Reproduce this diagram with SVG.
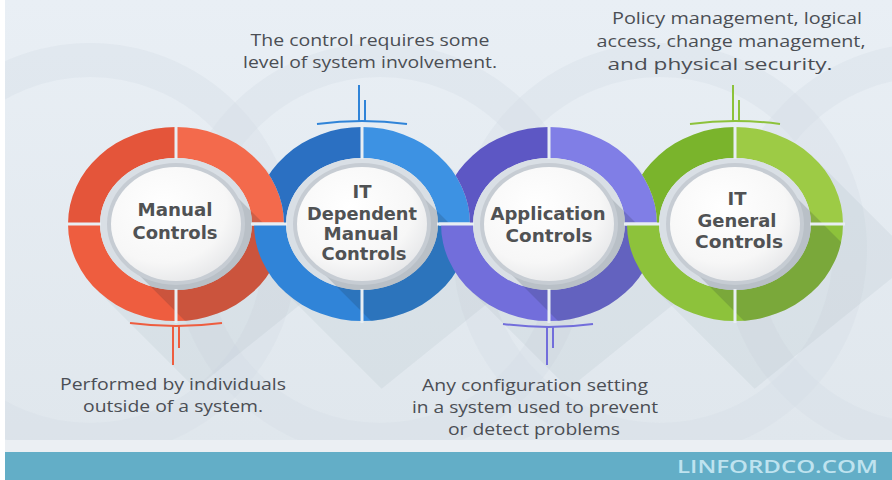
<svg xmlns="http://www.w3.org/2000/svg" width="892" height="480" viewBox="0 0 892 480">
<defs>
<style>
.lbl{font-family:"DejaVu Sans",sans-serif;font-weight:bold;font-size:18px;fill:#505254;text-anchor:middle}
.note{font-family:"Open Sans","Liberation Sans",sans-serif;font-size:17px;fill:#4b4e54;text-anchor:middle}
.div{stroke:#e8eef3;stroke-width:3}
.gap{fill:#d9dfe5}
.rim{fill:#c6ccd3}
.disc{fill:url(#discG)}
.dsh{fill:#1e2a36;fill-opacity:0.17}
.bsh{fill:#7f8f9e;fill-opacity:0.09}
.arc{fill:none;stroke:#d4dce4;stroke-opacity:0.35;stroke-width:34}
</style>
<linearGradient id="bgG" x1="0" y1="0" x2="0" y2="1">
<stop offset="0" stop-color="#e9eff5"/>
<stop offset="1" stop-color="#dfe6ec"/>
</linearGradient>
<radialGradient id="discG" cx="0.4" cy="0.35" r="0.7">
<stop offset="0" stop-color="#ffffff"/>
<stop offset="0.7" stop-color="#f7f7f7"/>
<stop offset="1" stop-color="#e6e7e9"/>
</radialGradient>
<clipPath id="annR"><path clip-rule="evenodd" d="M68,224 A108,97 0 1 0 284,224 A108,97 0 1 0 68,224 Z M100,224 A76,66 0 1 0 252,224 A76,66 0 1 0 100,224 Z"/></clipPath>
<clipPath id="annB"><path clip-rule="evenodd" d="M254,224 A108,97 0 1 0 470,224 A108,97 0 1 0 254,224 Z M286,224 A76,66 0 1 0 438,224 A76,66 0 1 0 286,224 Z"/></clipPath>
<clipPath id="annP"><path clip-rule="evenodd" d="M441,224 A108,97 0 1 0 657,224 A108,97 0 1 0 441,224 Z M473,224 A76,66 0 1 0 625,224 A76,66 0 1 0 473,224 Z"/></clipPath>
<clipPath id="annG"><path clip-rule="evenodd" d="M627,224 A108,97 0 1 0 843,224 A108,97 0 1 0 627,224 Z M659,224 A76,66 0 1 0 811,224 A76,66 0 1 0 659,224 Z"/></clipPath>
<clipPath id="outR"><path clip-rule="evenodd" d="M0,0 H892 V480 H0 Z M68,224 A108,97 0 1 0 284,224 A108,97 0 1 0 68,224 Z"/></clipPath>
<clipPath id="outB"><path clip-rule="evenodd" d="M0,0 H892 V480 H0 Z M254,224 A108,97 0 1 0 470,224 A108,97 0 1 0 254,224 Z"/></clipPath>
<clipPath id="outP"><path clip-rule="evenodd" d="M0,0 H892 V480 H0 Z M441,224 A108,97 0 1 0 657,224 A108,97 0 1 0 441,224 Z"/></clipPath>
<clipPath id="elR"><ellipse cx="176" cy="224" rx="108" ry="97"/></clipPath>
<clipPath id="elB"><ellipse cx="362" cy="224" rx="108" ry="97"/></clipPath>
<clipPath id="elP"><ellipse cx="549" cy="224" rx="108" ry="97"/></clipPath>
<clipPath id="elG"><ellipse cx="735" cy="224" rx="108" ry="97"/></clipPath>
</defs>

<g id="background">
<rect width="892" height="480" fill="url(#bgG)"/>
<circle class="arc" cx="90" cy="250" r="190"/>
<circle class="arc" cx="380" cy="250" r="190"/>
<circle class="arc" cx="660" cy="250" r="190"/>
<circle class="arc" cx="930" cy="250" r="190"/>
<rect x="0" y="0" width="5" height="480" fill="#ffffff"/>
<g transform="translate(176,224)"><polygon class="bsh" points="80.4,-64.8 180.4,35.2 19.6,164.8 -80.4,64.8"/></g>
<g transform="translate(362,224)"><polygon class="bsh" points="80.4,-64.8 180.4,35.2 19.6,164.8 -80.4,64.8"/></g>
<g transform="translate(549,224)"><polygon class="bsh" points="80.4,-64.8 180.4,35.2 19.6,164.8 -80.4,64.8"/></g>
<g transform="translate(735,224)"><polygon class="bsh" points="80.4,-64.8 180.4,35.2 19.6,164.8 -80.4,64.8"/></g>
</g>

<g id="node-manual">
<g clip-path="url(#annR)">
<rect x="66" y="125" width="110" height="99" fill="#e4553a"/>
<rect x="176" y="125" width="110" height="99" fill="#f36a4c"/>
<rect x="66" y="224" width="110" height="99" fill="#ee5d3f"/>
<rect x="176" y="224" width="110" height="99" fill="#ee5d3f"/>
</g>
<ellipse class="gap" cx="176" cy="224" rx="76" ry="66"/>
<g clip-path="url(#elR)"><polygon class="dsh" transform="translate(176,224)" points="49.6,-38.3 199.6,111.7 100.4,188.3 -49.6,38.3"/></g>
<line class="div" x1="176" y1="125" x2="176" y2="159"/>
<line class="div" x1="176" y1="289" x2="176" y2="323"/>
<line class="div" x1="66" y1="224" x2="101" y2="224"/>
<line class="div" x1="251" y1="224" x2="286" y2="224"/>
<ellipse class="rim" cx="176" cy="224" rx="69" ry="61"/>
<ellipse class="disc" cx="176" cy="224" rx="65" ry="57"/>
<text class="lbl" x="175" y="216" textLength="75" lengthAdjust="spacingAndGlyphs">Manual</text>
<text class="lbl" x="175" y="239" textLength="85" lengthAdjust="spacingAndGlyphs">Controls</text>
</g>

<g id="node-itdm">
<g clip-path="url(#annB)">
<g clip-path="url(#outR)"><rect x="252" y="125" width="110" height="99" fill="#2b70c2"/></g>
<rect x="362" y="125" width="110" height="99" fill="#3d92e3"/>
<rect x="252" y="224" width="110" height="99" fill="#3084d8"/>
<rect x="362" y="224" width="110" height="99" fill="#3084d8"/>
</g>
<ellipse class="gap" cx="362" cy="224" rx="76" ry="66"/>
<g clip-path="url(#elB)"><polygon class="dsh" transform="translate(362,224)" points="49.6,-38.3 199.6,111.7 100.4,188.3 -49.6,38.3"/></g>
<line class="div" x1="362" y1="125" x2="362" y2="159"/>
<line class="div" x1="362" y1="289" x2="362" y2="323"/>
<line class="div" x1="252" y1="224" x2="287" y2="224"/>
<line class="div" x1="437" y1="224" x2="472" y2="224"/>
<ellipse class="rim" cx="362" cy="224" rx="69" ry="61"/>
<ellipse class="disc" cx="362" cy="224" rx="65" ry="57"/>
<text class="lbl" x="362" y="198">IT</text>
<text class="lbl" x="362" y="220" textLength="110" lengthAdjust="spacingAndGlyphs">Dependent</text>
<text class="lbl" x="361" y="240" textLength="75" lengthAdjust="spacingAndGlyphs">Manual</text>
<text class="lbl" x="364" y="260" textLength="85" lengthAdjust="spacingAndGlyphs">Controls</text>
</g>

<g id="node-app">
<g clip-path="url(#annP)">
<g clip-path="url(#outB)"><rect x="439" y="125" width="110" height="99" fill="#5d57c4"/></g>
<rect x="549" y="125" width="110" height="99" fill="#807ee6"/>
<rect x="439" y="224" width="110" height="99" fill="#726edb"/>
<rect x="549" y="224" width="110" height="99" fill="#726edb"/>
</g>
<ellipse class="gap" cx="549" cy="224" rx="76" ry="66"/>
<g clip-path="url(#elP)"><polygon class="dsh" transform="translate(549,224)" points="49.6,-38.3 199.6,111.7 100.4,188.3 -49.6,38.3"/></g>
<line class="div" x1="549" y1="125" x2="549" y2="159"/>
<line class="div" x1="549" y1="289" x2="549" y2="323"/>
<line class="div" x1="439" y1="224" x2="474" y2="224"/>
<line class="div" x1="624" y1="224" x2="659" y2="224"/>
<ellipse class="rim" cx="549" cy="224" rx="69" ry="61"/>
<ellipse class="disc" cx="549" cy="224" rx="65" ry="57"/>
<text class="lbl" x="548" y="220" textLength="115" lengthAdjust="spacingAndGlyphs">Application</text>
<text class="lbl" x="549" y="242" textLength="87" lengthAdjust="spacingAndGlyphs">Controls</text>
</g>

<g id="node-itgc">
<g clip-path="url(#annG)">
<g clip-path="url(#outP)"><rect x="625" y="125" width="110" height="99" fill="#7ab42c"/></g>
<rect x="735" y="125" width="110" height="99" fill="#9dcb45"/>
<rect x="625" y="224" width="110" height="99" fill="#8dc23b"/>
<rect x="735" y="224" width="110" height="99" fill="#8dc23b"/>
</g>
<ellipse class="gap" cx="735" cy="224" rx="76" ry="66"/>
<g clip-path="url(#elG)"><polygon class="dsh" transform="translate(735,224)" points="49.6,-38.3 199.6,111.7 100.4,188.3 -49.6,38.3"/></g>
<line class="div" x1="735" y1="125" x2="735" y2="159"/>
<line class="div" x1="735" y1="289" x2="735" y2="323"/>
<line class="div" x1="625" y1="224" x2="660" y2="224"/>
<line class="div" x1="810" y1="224" x2="845" y2="224"/>
<ellipse class="rim" cx="735" cy="224" rx="69" ry="61"/>
<ellipse class="disc" cx="735" cy="224" rx="65" ry="57"/>
<text class="lbl" x="737" y="205">IT</text>
<text class="lbl" x="737" y="227" textLength="79" lengthAdjust="spacingAndGlyphs">General</text>
<text class="lbl" x="739" y="248" textLength="88" lengthAdjust="spacingAndGlyphs">Controls</text>
</g>

<g id="connectors" fill="none" stroke-width="2">
<g stroke="#ee5d3f">
<path d="M130,323 Q176,329 222,323"/>
<line x1="173" y1="325" x2="173" y2="365"/>
<line x1="179" y1="325" x2="179" y2="348"/>
</g>
<g stroke="#3084d8">
<path d="M317,124 Q362,118 407,124"/>
<line x1="359" y1="85" x2="359" y2="122"/>
<line x1="365" y1="100" x2="365" y2="121"/>
</g>
<g stroke="#726edb">
<path d="M503,324 Q549,330 593,324"/>
<line x1="547" y1="326" x2="547" y2="365"/>
<line x1="553" y1="326" x2="553" y2="348"/>
</g>
<g stroke="#8dc23b">
<path d="M690,124 Q735,118 780,124"/>
<line x1="733" y1="85" x2="733" y2="122"/>
<line x1="739" y1="100" x2="739" y2="121"/>
</g>
</g>

<g id="notes">
<text class="note" x="370" y="46" textLength="239" lengthAdjust="spacingAndGlyphs">The control requires some</text>
<text class="note" x="370" y="68" textLength="254" lengthAdjust="spacingAndGlyphs">level of system involvement.</text>
<text class="note" x="737" y="24" textLength="250" lengthAdjust="spacingAndGlyphs">Policy management, logical</text>
<text class="note" x="731" y="47" textLength="269" lengthAdjust="spacingAndGlyphs">access, change management,</text>
<text class="note" x="720" y="70" textLength="225" lengthAdjust="spacingAndGlyphs">and physical security.</text>
<text class="note" x="173" y="390" textLength="226" lengthAdjust="spacingAndGlyphs">Performed by individuals</text>
<text class="note" x="173" y="412" textLength="180" lengthAdjust="spacingAndGlyphs">outside of a system.</text>
<text class="note" x="535" y="391" textLength="226" lengthAdjust="spacingAndGlyphs">Any configuration setting</text>
<text class="note" x="535" y="413" textLength="246" lengthAdjust="spacingAndGlyphs">in a system used to prevent</text>
<text class="note" x="534" y="435" textLength="172" lengthAdjust="spacingAndGlyphs">or detect problems</text>
</g>

<g id="banner">
<rect x="5" y="440" width="887" height="12" fill="#ebeff3"/>
<rect x="5" y="452" width="887" height="28" fill="#63aec7"/>
<text x="677" y="473" textLength="201" lengthAdjust="spacingAndGlyphs" font-family="'Open Sans','Liberation Sans',sans-serif" font-weight="600" font-size="18" fill="#bfe3ef">LINFORDCO.COM</text>
</g>
</svg>
